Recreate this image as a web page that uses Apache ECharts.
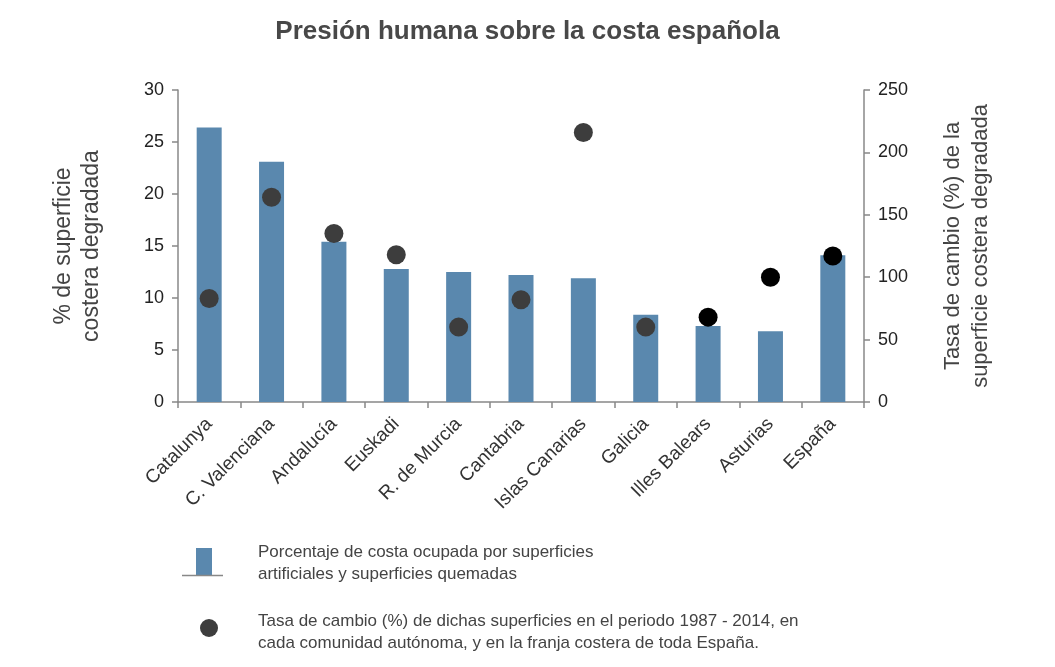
<!DOCTYPE html>
<html><head><meta charset="utf-8">
<script src="https://cdn.jsdelivr.net/npm/echarts@6/dist/echarts.min.js"></script>
<style>html,body{margin:0;padding:0;background:#fff}#c{width:1055px;height:667px}</style>
</head><body><div id="c"></div>
<script>
const categories = ["Catalunya","C. Valenciana","Andalucía","Euskadi","R. de Murcia","Cantabria","Islas Canarias","Galicia","Illes Balears","Asturias","España"];
const pctDegraded = [26.4, 23.1, 15.4, 12.8, 12.5, 12.2, 11.9, 8.4, 7.3, 6.8, 14.1];
const changeRate = [83, 164, 135, 118, 60, 82, 216, 60, 68, 100, 117];
const dotColors = ["#3d3d3d","#3d3d3d","#3d3d3d","#3d3d3d","#3d3d3d","#3d3d3d","#3d3d3d","#3d3d3d","#000000","#000000","#000000"];
const leftTicks = [0,5,10,15,20,25,30];
const rightTicks = [0,50,100,150,200,250];

const FONT = "Liberation Sans";
const chart = echarts.init(document.getElementById('c'), null, {renderer:'canvas'});
chart.setOption({
  animation:false,
  backgroundColor:'#fff',
  title:{text:'Presión humana sobre la costa española', left:'center', top:14,
    textStyle:{fontFamily:FONT, fontSize:26, fontWeight:'bold', color:'#484848'}},
  grid:{left:178, right:191, top:90, bottom:265},
  xAxis:{type:'category', data:categories,
    axisLine:{lineStyle:{color:'#888', width:1.5}},
    axisTick:{show:true, alignWithLabel:false, length:6, lineStyle:{color:'#888', width:1.5}},
    axisLabel:{rotate:45, fontFamily:FONT, fontSize:19, color:'#333', margin:19, interval:0}},
  yAxis:[
    {type:'value', min:0, max:30, interval:5,
     name:'% de superficie\ncostera degradada', nameLocation:'middle', nameRotate:90, nameGap:72,
     nameTextStyle:{fontFamily:FONT, fontSize:23, color:'#444', lineHeight:28},
     axisLine:{show:true, lineStyle:{color:'#888', width:1.5}},
     axisTick:{show:true, length:6, lineStyle:{color:'#888', width:1.5}},
     axisLabel:{fontFamily:FONT, fontSize:18, color:'#222', margin:14,
       formatter:v=>leftTicks.includes(v)?String(v):''},
     splitLine:{show:false}},
    {type:'value', min:0, max:250, interval:50, position:'right',
     name:'Tasa de cambio (%) de la\nsuperficie costera degradada', nameLocation:'middle', nameRotate:90, nameGap:75,
     nameTextStyle:{fontFamily:FONT, fontSize:22, color:'#444', lineHeight:28},
     axisLine:{show:true, lineStyle:{color:'#888', width:1.5}},
     axisTick:{show:true, length:6, lineStyle:{color:'#888', width:1.5}},
     axisLabel:{fontFamily:FONT, fontSize:18, color:'#222', margin:14,
       formatter:v=>rightTicks.includes(v)?String(v):''},
     splitLine:{show:false}}
  ],
  series:[
    {type:'bar', data:pctDegraded, yAxisIndex:0, barWidth:25,
     itemStyle:{color:'#5a88ae'}},
    {type:'scatter', yAxisIndex:1, symbolSize:19,
     data:changeRate.map((v,i)=>({value:v, itemStyle:{color:dotColors[i], opacity:1}}))}
  ],
  graphic:[
    {type:'rect', shape:{x:196, y:548, width:16, height:27}, style:{fill:'#5a88ae'}},
    {type:'line', shape:{x1:182, y1:575.5, x2:223, y2:575.5}, style:{stroke:'#888', lineWidth:1.5}},
    {type:'text', x:258, y:541, style:{text:'Porcentaje de costa ocupada por superficies\nartificiales y superficies quemadas', fontFamily:FONT, fontSize:17, lineHeight:22, fill:'#444'}},
    {type:'circle', shape:{cx:209, cy:628, r:9}, style:{fill:'#3d3d3d'}},
    {type:'text', x:258, y:610, style:{text:'Tasa de cambio (%) de dichas superficies en el periodo 1987 - 2014, en\ncada comunidad autónoma, y en la franja costera de toda España.', fontFamily:FONT, fontSize:17, lineHeight:22, fill:'#444'}}
  ]
});
</script></body></html>
